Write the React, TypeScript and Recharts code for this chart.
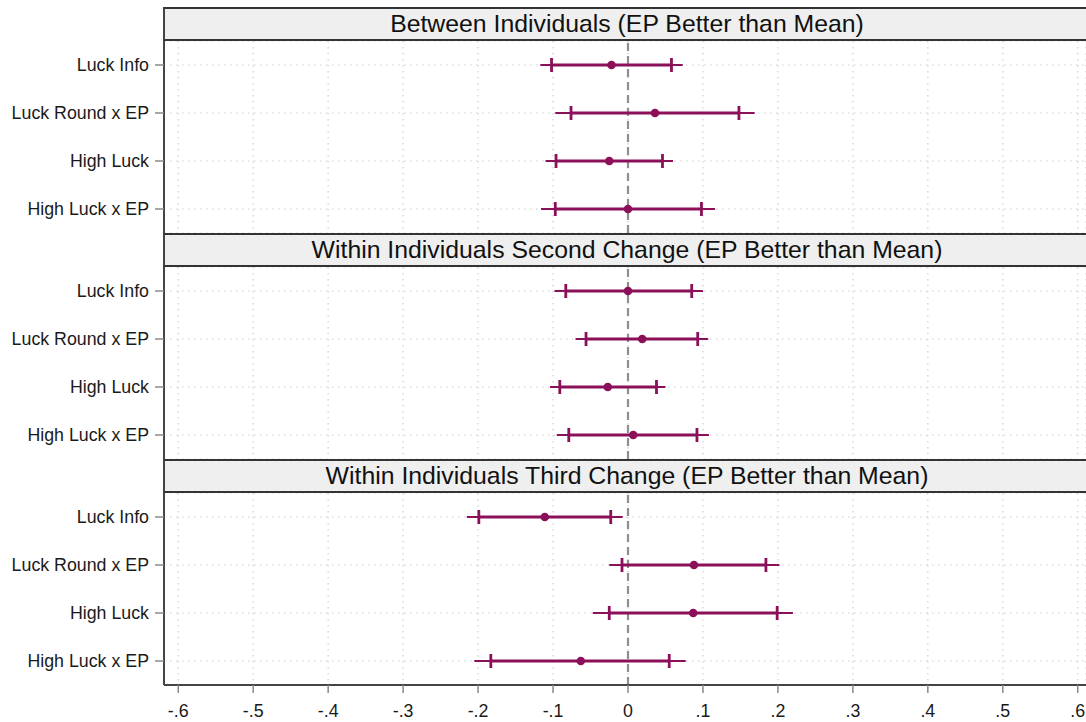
import React from 'react';
import {
  ComposedChart,
  Line,
  XAxis,
  YAxis,
  CartesianGrid,
  ReferenceLine,
  ErrorBar,
} from 'recharts';

// Coefficient labels shared by all three panels
const rowLabels = ['Luck Info', 'Luck Round x EP', 'High Luck', 'High Luck x EP'];

const panelTitles = [
  'Between Individuals (EP Better than Mean)',
  'Within Individuals Second Change (EP Better than Mean)',
  'Within Individuals Third Change (EP Better than Mean)',
];

// Between individuals
const betweenEst = [-0.022, 0.036, -0.025, 0.0];
const betweenCi90 = [[-0.102, 0.058], [-0.076, 0.148], [-0.096, 0.046], [-0.097, 0.098]];
const betweenCi95 = [[-0.117, 0.073], [-0.097, 0.169], [-0.11, 0.06], [-0.116, 0.116]];

// Within individuals, second change
const secondEst = [0.0, 0.019, -0.027, 0.007];
const secondCi90 = [[-0.083, 0.085], [-0.056, 0.093], [-0.091, 0.038], [-0.079, 0.092]];
const secondCi95 = [[-0.098, 0.1], [-0.07, 0.107], [-0.104, 0.05], [-0.095, 0.108]];

// Within individuals, third change
const thirdEst = [-0.111, 0.088, 0.087, -0.063];
const thirdCi90 = [[-0.199, -0.023], [-0.008, 0.184], [-0.025, 0.199], [-0.183, 0.055]];
const thirdCi95 = [[-0.215, -0.007], [-0.025, 0.202], [-0.047, 0.22], [-0.205, 0.077]];

const xTicks = [-0.6, -0.5, -0.4, -0.3, -0.2, -0.1, 0, 0.1, 0.2, 0.3, 0.4, 0.5, 0.6];
const xDomain: [number, number] = [-0.619, 0.611];

const MARK = '#8c1059';
const FONT = '"Liberation Sans", Arial, sans-serif';

const buildRows = (est: number[], ci90: number[][], ci95: number[][]) =>
  rowLabels.map((name, i) => ({
    name,
    est: est[i],
    err90: [est[i] - ci90[i][0], ci90[i][1] - est[i]],
    err95: [est[i] - ci95[i][0], ci95[i][1] - est[i]],
  }));

const panels = [
  { title: panelTitles[0], rows: buildRows(betweenEst, betweenCi90, betweenCi95) },
  { title: panelTitles[1], rows: buildRows(secondEst, secondCi90, secondCi95) },
  { title: panelTitles[2], rows: buildRows(thirdEst, thirdCi90, thirdCi95) },
];

// Stata style: -.6, -.5 ... 0 ... .5, .6
const fmtTick = (v: number) => (v === 0 ? '0' : v.toFixed(1).replace('0.', '.'));

interface PanelProps {
  title: string;
  rows: ReturnType<typeof buildRows>;
  showAxis: boolean;
}

const Panel: React.FC<PanelProps> = ({ title, rows, showAxis }) => {
  const plotH = 192;
  const axisH = showAxis ? 37 : 0;
  return (
    <div>
      <div
        style={{
          marginLeft: 163,
          width: 940,
          height: 30,
          borderTop: '2px solid #333',
          borderBottom: '2px solid #333',
          borderLeft: '2px solid #444',
          background: '#efefef',
        }}
      >
        <div style={{ width: 924, textAlign: 'center', fontSize: 24.8, lineHeight: '30px', color: '#111' }}>
          {title}
        </div>
      </div>
      <ComposedChart
        layout="vertical"
        width={1086}
        height={plotH + axisH}
        data={rows}
        margin={{ top: 0, right: 0, bottom: 0, left: 0 }}
      >
        <CartesianGrid stroke="#cfcfcf" strokeDasharray="1.5 4.5" strokeWidth={1.2} />
        <XAxis
          type="number"
          domain={xDomain}
          ticks={xTicks}
          allowDataOverflow
          hide={!showAxis}
          height={axisH}
          tickFormatter={fmtTick}
          tickSize={8}
          tickMargin={11}
          tick={{ fill: '#1a1a1a', fontSize: 17.8, fontFamily: FONT }}
          tickLine={{ stroke: '#888', strokeWidth: 1.5 }}
          axisLine={{ stroke: '#444', strokeWidth: 2 }}
        />
        <YAxis
          type="category"
          dataKey="name"
          width={164}
          padding={{ top: 24, bottom: 24 }}
          tickSize={9}
          tickMargin={6}
          tick={{ fill: '#1a1a1a', fontSize: 17.8, fontFamily: FONT }}
          tickLine={{ stroke: '#888', strokeWidth: 1.5 }}
          axisLine={{ stroke: '#444', strokeWidth: 2 }}
        />
        <ReferenceLine x={0} stroke="#8f8f8f" strokeWidth={2.2} strokeDasharray="8 5" />
        <Line
          dataKey="est"
          stroke="none"
          isAnimationActive={false}
          dot={{ r: 4.3, fill: MARK, stroke: 'none' }}
          activeDot={false}
        >
          <ErrorBar dataKey="err95" direction="x" width={0} stroke={MARK} strokeWidth={2} isAnimationActive={false} />
          <ErrorBar dataKey="err90" direction="x" width={7} stroke={MARK} strokeWidth={2.8} isAnimationActive={false} />
        </Line>
      </ComposedChart>
    </div>
  );
};

export default function App() {
  return (
    <div
      style={{
        position: 'absolute',
        top: 7,
        left: 0,
        width: 1086,
        height: 715,
        overflow: 'hidden',
        fontFamily: FONT,
        background: '#fff',
      }}
    >
      {panels.map((p, i) => (
        <Panel key={p.title} title={p.title} rows={p.rows} showAxis={i === panels.length - 1} />
      ))}
    </div>
  );
}
